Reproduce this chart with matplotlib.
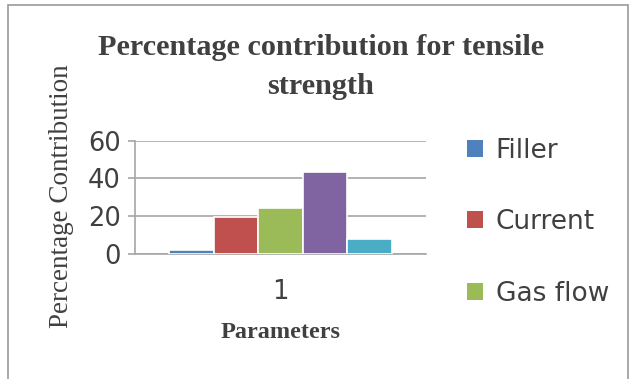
import matplotlib.pyplot as plt
from matplotlib.patches import Patch, Rectangle

SERIES = ["Filler", "Current", "Gas flow", "Series 4", "Series 5"]
VALUES = [2.0, 19.5, 24.5, 43.5, 8.0]
COLORS = ["#4F81BD", "#C0504D", "#9BBB59", "#8064A2", "#4BACC6"]
CATEGORY = 1
LEGEND_SHOWN = 3  # only the first three entries fit in the original legend

TEXT = "#404040"
GRID = "#a6a6a6"
SERIF = "Liberation Serif"

fig = plt.figure(figsize=(6.32, 3.79), dpi=100)
ax = fig.add_axes([135 / 632, 1 - 254 / 379, 291 / 632, 113.3 / 379])

width = 0.1526
n = len(VALUES)
for i, (name, val, col) in enumerate(zip(SERIES, VALUES, COLORS)):
    x = CATEGORY + (i - (n - 1) / 2) * width
    ax.bar(x, val, width=width, color=col, edgecolor="white", linewidth=1.2, label=name, zorder=3)

ax.set_xlim(0.5, 1.5)
ax.set_ylim(0, 60)
ax.set_yticks([0, 20, 40, 60])
ax.set_xticks([CATEGORY])
ax.set_xticklabels([str(CATEGORY)])
ax.grid(axis="y", color=GRID, linewidth=1.2, zorder=0)
for side in ["top", "right"]:
    ax.spines[side].set_visible(False)
for side in ["left", "bottom"]:
    ax.spines[side].set_color(GRID)
    ax.spines[side].set_linewidth(1.2)
ax.tick_params(axis="y", length=5, width=1.2, color=GRID, labelsize=18.5, labelcolor=TEXT, pad=5)
ax.tick_params(axis="x", length=0, labelsize=18.5, labelcolor=TEXT, pad=18)

fig.text(0.508, 1 - 34 / 379, "Percentage contribution for tensile\nstrength", ha="center", va="top",
         family=SERIF, fontweight="bold", fontsize=21.8, color=TEXT, linespacing=1.55)
fig.text(62 / 632, 1 - 196 / 379, "Percentage Contribution", rotation=90, ha="center", va="center",
         family=SERIF, fontsize=19.5, color=TEXT)
fig.text(281 / 632, 1 - 332 / 379, "Parameters", ha="center", va="center",
         family=SERIF, fontweight="bold", fontsize=17.5, color=TEXT)

handles = [Patch(facecolor=c) for c in COLORS[:LEGEND_SHOWN]]
fig.legend(handles, SERIES[:LEGEND_SHOWN], loc="upper left", bbox_to_anchor=(443 / 632, 1 - 114 / 379),
           frameon=False, fontsize=19, labelcolor=TEXT, handlelength=0.6, handleheight=0.6,
           handletextpad=0.5, labelspacing=1.72)

fig.add_artist(Rectangle((8 / 632, -0.05), 620 / 632, 1.05 - 5 / 379, transform=fig.transFigure,
                         fill=False, edgecolor="#9a9a9a", linewidth=1.2))

fig.savefig("out.png", dpi=100)
